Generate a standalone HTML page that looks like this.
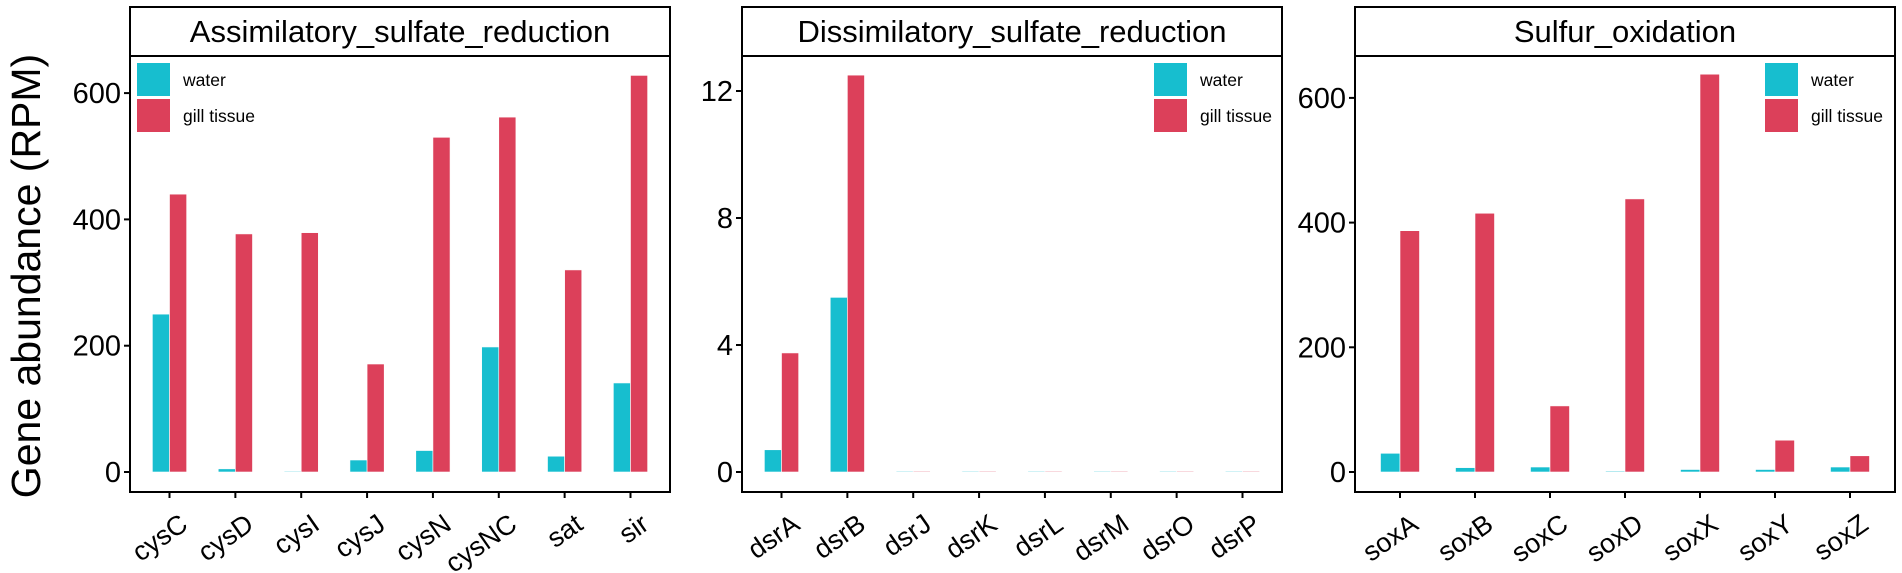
<!DOCTYPE html>
<html><head><meta charset="utf-8"><style>
body{margin:0;background:#fff;}
svg{display:block;font-family:"Liberation Sans",Arial,sans-serif;}
</style></head><body>
<svg id="chart" width="1902" height="573" viewBox="0 0 1902 573"></svg>
<script>
const titles=["Assimilatory_sulfate_reduction","Dissimilatory_sulfate_reduction","Sulfur_oxidation"];
const cats1=["cysC","cysD","cysI","cysJ","cysN","cysNC","sat","sir"];
const water1=[250,5,0.5,19,34,198,25,141];
const gill1=[440,377,379,171,530,562,320,628];
const ticks1=[0,200,400,600];
const cats2=["dsrA","dsrB","dsrJ","dsrK","dsrL","dsrM","dsrO","dsrP"];
const water2=[0.7,5.5,0.01,0.01,0.01,0.01,0.01,0.01];
const gill2=[3.75,12.5,0.01,0.01,0.01,0.01,0.01,0.01];
const ticks2=[0,4,8,12];
const cats3=["soxA","soxB","soxC","soxD","soxX","soxY","soxZ"];
const water3=[30,7,8,1.5,4,4,8];
const gill3=[387,415,106,438,638,51,26];
const ticks3=[0,200,400,600];
const seriesNames=["water","gill tissue"];

const NS="http://www.w3.org/2000/svg";
const svg=document.getElementById('chart');
function mk(tag,attrs,parent){const e=document.createElementNS(NS,tag);for(const k in attrs)e.setAttribute(k,attrs[k]);(parent||svg).appendChild(e);return e;}
const colors=["#17BECF","#DC405A"];
const panels=[
 {x0:130,x1:670,cats:cats1,w:water1,g:gill1,ticks:ticks1,pxPerUnit:126.3/200,legX:137},
 {x0:742,x1:1282,cats:cats2,w:water2,g:gill2,ticks:ticks2,pxPerUnit:127/4,legX:1154},
 {x0:1355,x1:1895,cats:cats3,w:water3,g:gill3,ticks:ticks3,pxPerUnit:124.7/200,legX:1765}
];
const plotTop=7,stripB=56,bot=492,y0=472;
const yt=mk('text',{x:0,y:0,transform:'translate(40,276) rotate(-90)','text-anchor':'middle','font-size':41});
yt.textContent="Gene abundance (RPM)";


panels.forEach((p,pi)=>{
  const g=mk('g',{});
  
  
  const ys=v=>y0-v*p.pxPerUnit;
  const n=p.cats.length, step=(p.x1-p.x0)/(n+0.2);
  const xs=i=>p.x0+step*(0.6+i);
  const bw=step*0.26;
  const strip=mk('rect',{x:p.x0,y:plotTop,width:p.x1-p.x0,height:stripB-plotTop,fill:'#fff',stroke:'#000','stroke-width':2},g);
  
  
  const st=mk('text',{x:(p.x0+p.x1)/2,y:42,'text-anchor':'middle','font-size':31},g);
  st.textContent=titles[pi];
  
  
  p.cats.forEach((c,i)=>{
    [p.w[i],p.g[i]].forEach((v,s)=>{
      const x=s===0?xs(i)-bw:xs(i);
      const h=Math.max(0.8,v*p.pxPerUnit);
      const r=mk('rect',{x:x,y:y0-h,width:bw,height:h,fill:colors[s],stroke:'#fff','stroke-width':0.6},g);
      
      
    });
    mk('line',{x1:xs(i),x2:xs(i),y1:bot,y2:bot+6,stroke:'#000','stroke-width':2},g);
    const t=mk('text',{x:0,y:0,transform:`translate(${xs(i)+20},${bot+36}) rotate(-35)`,'text-anchor':'end','font-size':27},g);
    t.textContent=c;
    
    
  });
  p.ticks.forEach(v=>{
    mk('line',{x1:p.x0-6,x2:p.x0,y1:ys(v),y2:ys(v),stroke:'#000','stroke-width':2},g);
    const t=mk('text',{x:p.x0-9,y:ys(v)+10,'text-anchor':'end','font-size':29},g);
    t.textContent=v;
    
    
  });
  const fr=mk('rect',{x:p.x0,y:stripB,width:p.x1-p.x0,height:bot-stripB,fill:'none',stroke:'#000','stroke-width':2},g);
  
  
  seriesNames.forEach((nm,s)=>{
    const k=mk('rect',{x:p.legX,y:63+s*36,width:33,height:33,fill:colors[s]},g);
    
    
    const t=mk('text',{x:p.legX+46,y:86+s*36,'font-size':17.5},g);
    t.textContent=nm;
    
    
  });
});
</script>
</body></html>
